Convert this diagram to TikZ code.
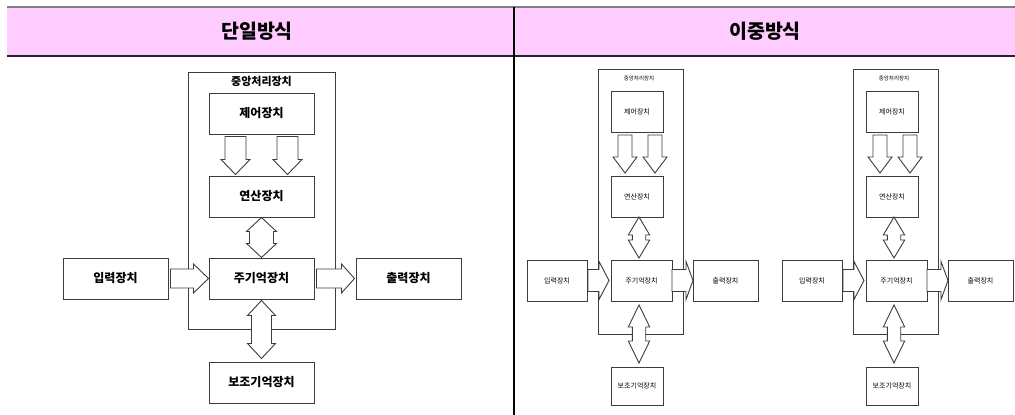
\documentclass[tikz,border=0pt]{standalone}
\usepackage{fontspec}
\setmainfont{Noto Sans CJK KR}
\usetikzlibrary{calc}
\usetikzlibrary{positioning}
\definecolor{headpink}{RGB}{255,204,255}
\definecolor{linegray}{RGB}{60,60,60}

% fat arrows: tail/tip, shaft half width, head half width, head length
\newcommand{\fatdown}[5]{%
  \draw[fatarrow] ($(#1)+(-#3,0)$) -- ($(#2)+(-#3,-#5)$) -- ($(#2)+(-#4,-#5)$) -- (#2)
    -- ($(#2)+(#4,-#5)$) -- ($(#2)+(#3,-#5)$) -- ($(#1)+(#3,0)$) -- cycle;}
\newcommand{\fatright}[5]{%
  \draw[fatarrow] ($(#1)+(0,-#3)$) -- ($(#2)+(-#5,-#3)$) -- ($(#2)+(-#5,-#4)$) -- (#2)
    -- ($(#2)+(-#5,#4)$) -- ($(#2)+(-#5,#3)$) -- ($(#1)+(0,#3)$) -- cycle;}
\newcommand{\fatboth}[5]{%
  \draw[fatarrow] (#1) -- ($(#1)+(#4,#5)$) -- ($(#1)+(#3,#5)$) -- ($(#2)+(#3,-#5)$)
    -- ($(#2)+(#4,-#5)$) -- (#2) -- ($(#2)+(-#4,-#5)$) -- ($(#2)+(-#3,-#5)$)
    -- ($(#1)+(-#3,#5)$) -- ($(#1)+(-#4,#5)$) -- cycle;}

\begin{document}
\begin{tikzpicture}[x=1pt, y=-1pt,
    fatarrow/.style={draw=linegray, fill=white, line width=0.9pt, line join=miter},
    bigbox/.style={draw=linegray, line width=1pt, fill=white, inner sep=0pt,
      font=\fontsize{12}{12}\selectfont\bfseries},
    smallbox/.style={draw=linegray, line width=0.7pt, fill=white, inner sep=0pt,
      font=\fontsize{7}{7}\selectfont},
    headtext/.style={font=\fontsize{19.5}{19.5}\selectfont\bfseries}]
  \useasboundingbox (0,0) rectangle (1015,415);

  % table head
  \fill[headpink] (7,7) rectangle (1015,55);
  \draw[gray, line width=1.6pt] (7,7) -- (1015,7);
  \draw[black!85, line width=1.6pt] (7,56) -- (1015,56);
  \draw[black, line width=1.2pt] (514,7) -- (514,415);
  \node[headtext] (single) at (257,31) {단일방식};
  \node[headtext] (dual) at (765,31) {이중방식};

  % single
  \node[draw=linegray, line width=1pt, minimum width=147pt, minimum height=257pt] (cpu) at (261.5,200.5) {};
  \node[font=\fontsize{11}{11}\selectfont\bfseries] (cpulbl) at (261.5,81) {중앙처리장치};
  \begin{scope}[every node/.style={bigbox, minimum width=105pt, minimum height=41pt}]
    \node (ctrl) at (261.5,113.5) {제어장치};
    \node (alu)  at (261.5,196.5) {연산장치};
    \node (mem)  at (261.5,278.5) {주기억장치};
    \node (aux)  at (261.5,382.5) {보조기억장치};
    \node (in)   at (115.5,278.5) {입력장치};
    \node (out)  at (408.5,278.5) {출력장치};
  \end{scope}
  \coordinate (c1) at ($(ctrl.south)+(-26,2)$);
  \coordinate (c2) at ($(ctrl.south)+(26,2)$);
  \coordinate (a1) at ($(alu.north)+(-26,-1)$);
  \coordinate (a2) at ($(alu.north)+(26,-1)$);
  \fatdown{c1}{a1}{10.5}{14.5}{15}
  \fatdown{c2}{a2}{10.5}{14.5}{15}
  \fatboth{alu.south}{mem.north}{12}{15}{14}
  \coordinate (m1) at ($(mem.south)+(0,1)$);
  \coordinate (x1) at ($(aux.north)+(0,-3)$);
  \fatboth{m1}{x1}{10}{14}{15}
  \coordinate (i1) at ($(in.east)+(2,0)$);
  \coordinate (o1) at ($(mem.east)+(2,0)$);
  \coordinate (o2) at ($(out.west)+(-1,0)$);
  \fatright{i1}{mem.west}{9.5}{14.5}{15}
  \fatright{o1}{o2}{9.5}{14.5}{13}

  % dual
  \foreach \dx/\nm in {0/a,255/b}{
    \begin{scope}[xshift=\dx pt]
      \node[draw=linegray, line width=0.7pt, minimum width=85pt, minimum height=265pt] (cpu\nm) at (640.5,201.5) {};
      \node[font=\fontsize{5.5}{5.5}\selectfont] (cpulbl\nm) at (639,78) {중앙처리장치};
      \begin{scope}[every node/.style={smallbox, minimum width=52pt, minimum height=41pt}]
        \node (ctrl\nm) at (637,112) {제어장치};
        \node (alu\nm)  at (637,196.5) {연산장치};
        \node[minimum width=61pt] (mem\nm) at (641.5,280.5) {주기억장치};
        \node[minimum height=38pt] (aux\nm) at (637,386) {보조기억장치};
        \node[minimum width=60pt] (in\nm) at (557,280.5) {입력장치};
        \node[minimum width=65pt] (out\nm) at (725.5,280.5) {출력장치};
      \end{scope}
      \coordinate (c1\nm) at (625,135);
      \coordinate (c2\nm) at (655,135);
      \coordinate (a1\nm) at (625,173);
      \coordinate (a2\nm) at (655,173);
      \fatdown{c1\nm}{a1\nm}{7}{12}{16}
      \fatdown{c2\nm}{a2\nm}{7}{12}{16}
      \coordinate (u1\nm) at (639,217);
      \coordinate (u2\nm) at (639,258);
      \coordinate (l1\nm) at (639,305);
      \coordinate (l2\nm) at (639,363);
      \fatboth{u1\nm}{u2\nm}{6.7}{10.7}{18}
      \fatboth{l1\nm}{l2\nm}{6.7}{10.7}{22}
      \coordinate (i1\nm) at (588,280.5);
      \coordinate (i2\nm) at (609,280.5);
      \coordinate (o1\nm) at (672,280.5);
      \coordinate (o2\nm) at (693,280.5);
      \fatright{i1\nm}{i2\nm}{11}{19}{10}
      \fatright{o1\nm}{o2\nm}{11}{19}{7}
    \end{scope}
  }
\end{tikzpicture}
\end{document}
